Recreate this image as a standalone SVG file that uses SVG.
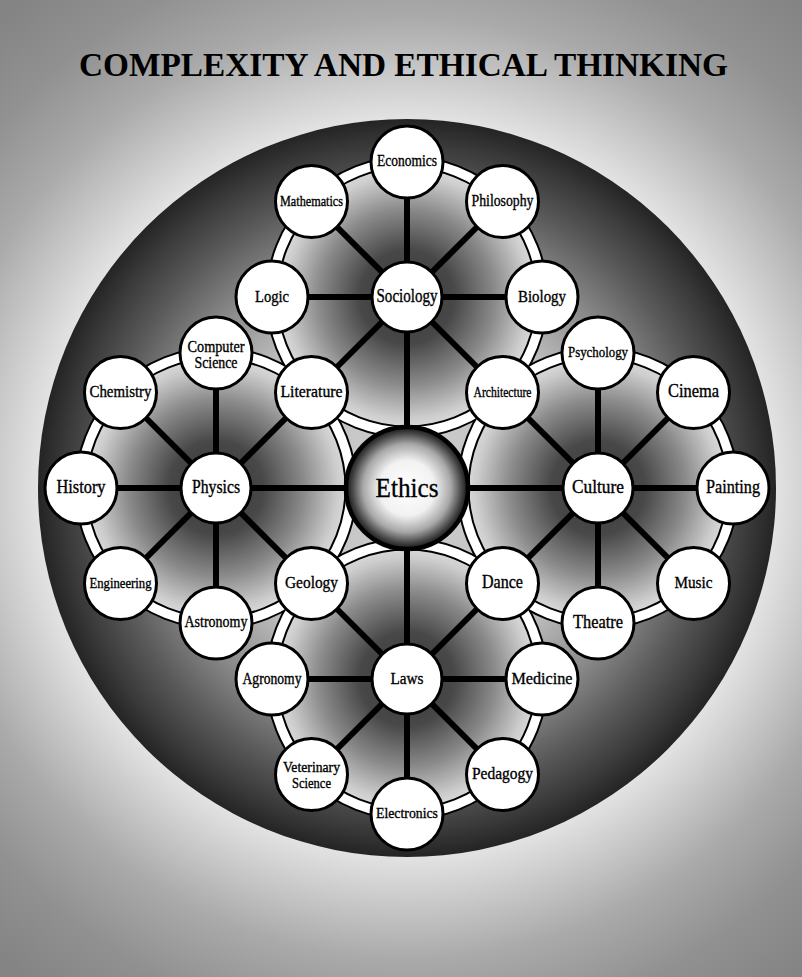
<svg xmlns="http://www.w3.org/2000/svg" width="802" height="977" viewBox="0 0 802 977">
<defs>
<radialGradient id="bgG" gradientUnits="userSpaceOnUse" cx="407" cy="488" r="620">
<stop offset="0" stop-color="#e8e8e8"/>
<stop offset="0.59" stop-color="#e4e4e4"/>
<stop offset="0.66" stop-color="#cccccc"/>
<stop offset="0.76" stop-color="#aaaaaa"/>
<stop offset="0.88" stop-color="#919191"/>
<stop offset="1" stop-color="#848484"/>
</radialGradient>
<radialGradient id="diskG" gradientUnits="userSpaceOnUse" cx="407" cy="488" r="369">
<stop offset="0" stop-color="#d0d0d0"/>
<stop offset="0.5" stop-color="#bbbbbb"/>
<stop offset="0.68" stop-color="#888888"/>
<stop offset="0.82" stop-color="#5a5a5a"/>
<stop offset="0.93" stop-color="#3a3a3a"/>
<stop offset="1" stop-color="#242424"/>
</radialGradient>
<radialGradient id="ringG">
<stop offset="0" stop-color="#383838"/>
<stop offset="0.35" stop-color="#484848"/>
<stop offset="0.65" stop-color="#8a8a8a"/>
<stop offset="0.9" stop-color="#cdcdcd"/>
<stop offset="1" stop-color="#dedede"/>
</radialGradient>
<radialGradient id="ethG">
<stop offset="0" stop-color="#ffffff"/>
<stop offset="0.45" stop-color="#f2f2f2"/>
<stop offset="0.72" stop-color="#a8a8a8"/>
<stop offset="0.9" stop-color="#454545"/>
<stop offset="1" stop-color="#151515"/>
</radialGradient>
</defs>
<style>
.ringo{fill:none;stroke:#000;stroke-width:13}
.ringi{fill:none;stroke:#fff;stroke-width:9}
.spoke{stroke:#000;stroke-width:6;stroke-linecap:butt}
.sat circle{fill:#fff;stroke:#000;stroke-width:3}
.lbl{font-family:"Liberation Serif","Times New Roman",serif;fill:#000;stroke:#000;stroke-width:0.35;text-anchor:middle}
.title{font-family:"Liberation Serif","Times New Roman",serif;fill:#000;font-size:33px;font-weight:bold}
</style>
<rect x="0" y="0" width="802" height="977" fill="url(#bgG)"/>
<text class="title" x="79" y="76" textLength="649" lengthAdjust="spacingAndGlyphs">COMPLEXITY AND ETHICAL THINKING</text>
<circle cx="407" cy="488" r="369" fill="url(#diskG)"/>
<g id="ring-interiors">
<circle cx="407" cy="297" r="135" fill="url(#ringG)"/>
<circle cx="216" cy="488" r="135" fill="url(#ringG)"/>
<circle cx="598" cy="488" r="135" fill="url(#ringG)"/>
<circle cx="407" cy="679" r="135" fill="url(#ringG)"/>
</g>
<g id="connectors">
<g id="rings">
<circle class="ringo" cx="407" cy="297" r="135"/>
<circle class="ringo" cx="216" cy="488" r="135"/>
<circle class="ringo" cx="598" cy="488" r="135"/>
<circle class="ringo" cx="407" cy="679" r="135"/>
<circle class="ringi" cx="407" cy="297" r="135"/>
<circle class="ringi" cx="216" cy="488" r="135"/>
<circle class="ringi" cx="598" cy="488" r="135"/>
<circle class="ringi" cx="407" cy="679" r="135"/>
</g>
<g id="spokes">
<line class="spoke" x1="407" y1="488" x2="407" y2="297"/>
<line class="spoke" x1="407" y1="488" x2="216" y2="488"/>
<line class="spoke" x1="407" y1="488" x2="598" y2="488"/>
<line class="spoke" x1="407" y1="488" x2="407" y2="679"/>
<line class="spoke" x1="407" y1="297" x2="407" y2="162"/>
<line class="spoke" x1="407" y1="297" x2="311.5" y2="201.5"/>
<line class="spoke" x1="407" y1="297" x2="502.5" y2="201.5"/>
<line class="spoke" x1="407" y1="297" x2="272" y2="297"/>
<line class="spoke" x1="407" y1="297" x2="542" y2="297"/>
<line class="spoke" x1="407" y1="297" x2="311.5" y2="392.5"/>
<line class="spoke" x1="407" y1="297" x2="502.5" y2="392.5"/>
<line class="spoke" x1="216" y1="488" x2="216" y2="353"/>
<line class="spoke" x1="216" y1="488" x2="120.5" y2="392.5"/>
<line class="spoke" x1="216" y1="488" x2="81" y2="488"/>
<line class="spoke" x1="216" y1="488" x2="120.5" y2="583.5"/>
<line class="spoke" x1="216" y1="488" x2="216" y2="623"/>
<line class="spoke" x1="216" y1="488" x2="311.5" y2="392.5"/>
<line class="spoke" x1="216" y1="488" x2="311.5" y2="583.5"/>
<line class="spoke" x1="598" y1="488" x2="598" y2="353"/>
<line class="spoke" x1="598" y1="488" x2="693.5" y2="392.5"/>
<line class="spoke" x1="598" y1="488" x2="733" y2="488"/>
<line class="spoke" x1="598" y1="488" x2="693.5" y2="583.5"/>
<line class="spoke" x1="598" y1="488" x2="598" y2="623"/>
<line class="spoke" x1="598" y1="488" x2="502.5" y2="392.5"/>
<line class="spoke" x1="598" y1="488" x2="502.5" y2="583.5"/>
<line class="spoke" x1="407" y1="679" x2="272" y2="679"/>
<line class="spoke" x1="407" y1="679" x2="542" y2="679"/>
<line class="spoke" x1="407" y1="679" x2="311.5" y2="774.5"/>
<line class="spoke" x1="407" y1="679" x2="407" y2="814"/>
<line class="spoke" x1="407" y1="679" x2="502.5" y2="774.5"/>
<line class="spoke" x1="407" y1="679" x2="311.5" y2="583.5"/>
<line class="spoke" x1="407" y1="679" x2="502.5" y2="583.5"/>
</g>
</g>
<g id="n-ethics">
<circle cx="407" cy="488" r="61" fill="url(#ethG)" stroke="#000" stroke-width="4.5"/>
<text class="lbl" x="407" y="497" font-size="27" textLength="63" lengthAdjust="spacingAndGlyphs" stroke-width="0.6">Ethics</text>
</g>
<g id="n-sociology" class="sat"><circle cx="407" cy="297" r="35"/><text class="lbl" x="407" y="302" font-size="18" textLength="61" lengthAdjust="spacingAndGlyphs">Sociology</text></g>
<g id="n-physics" class="sat"><circle cx="216" cy="488" r="35"/><text class="lbl" x="216" y="493" font-size="18" textLength="48" lengthAdjust="spacingAndGlyphs">Physics</text></g>
<g id="n-culture" class="sat"><circle cx="598" cy="488" r="35"/><text class="lbl" x="598" y="493" font-size="19" textLength="52" lengthAdjust="spacingAndGlyphs">Culture</text></g>
<g id="n-laws" class="sat"><circle cx="407" cy="679" r="35"/><text class="lbl" x="407" y="684" font-size="17" textLength="33" lengthAdjust="spacingAndGlyphs">Laws</text></g>
<g id="n-economics" class="sat"><circle cx="407" cy="162" r="36"/><text class="lbl" x="407" y="166" font-size="16" textLength="60" lengthAdjust="spacingAndGlyphs">Economics</text></g>
<g id="n-mathematics" class="sat"><circle cx="311.5" cy="201.5" r="36"/><text class="lbl" x="311.5" y="205.5" font-size="15" textLength="63" lengthAdjust="spacingAndGlyphs">Mathematics</text></g>
<g id="n-philosophy" class="sat"><circle cx="502.5" cy="201.5" r="36"/><text class="lbl" x="502.5" y="205.5" font-size="16" textLength="62" lengthAdjust="spacingAndGlyphs">Philosophy</text></g>
<g id="n-logic" class="sat"><circle cx="272" cy="297" r="36"/><text class="lbl" x="272" y="301.5" font-size="17" textLength="34" lengthAdjust="spacingAndGlyphs">Logic</text></g>
<g id="n-biology" class="sat"><circle cx="542" cy="297" r="36"/><text class="lbl" x="542" y="301.5" font-size="17" textLength="48" lengthAdjust="spacingAndGlyphs">Biology</text></g>
<g id="n-literature" class="sat"><circle cx="311.5" cy="392.5" r="36"/><text class="lbl" x="311.5" y="396.5" font-size="16" textLength="62" lengthAdjust="spacingAndGlyphs">Literature</text></g>
<g id="n-architecture" class="sat"><circle cx="502.5" cy="392.5" r="36"/><text class="lbl" x="502.5" y="396.5" font-size="15" textLength="58" lengthAdjust="spacingAndGlyphs">Architecture</text></g>
<g id="n-computer-science" class="sat"><circle cx="216" cy="353" r="36"/><text class="lbl" x="216" y="352" font-size="16" textLength="57" lengthAdjust="spacingAndGlyphs">Computer</text><text class="lbl" x="216" y="368" font-size="16" textLength="43" lengthAdjust="spacingAndGlyphs">Science</text></g>
<g id="n-chemistry" class="sat"><circle cx="120.5" cy="392.5" r="36"/><text class="lbl" x="120.5" y="397" font-size="16" textLength="62" lengthAdjust="spacingAndGlyphs">Chemistry</text></g>
<g id="n-history" class="sat"><circle cx="81" cy="488" r="36"/><text class="lbl" x="81" y="493" font-size="18" textLength="49" lengthAdjust="spacingAndGlyphs">History</text></g>
<g id="n-engineering" class="sat"><circle cx="120.5" cy="583.5" r="36"/><text class="lbl" x="120.5" y="587.5" font-size="15" textLength="62" lengthAdjust="spacingAndGlyphs">Engineering</text></g>
<g id="n-astronomy" class="sat"><circle cx="216" cy="623" r="36"/><text class="lbl" x="216" y="627" font-size="16" textLength="63" lengthAdjust="spacingAndGlyphs">Astronomy</text></g>
<g id="n-geology" class="sat"><circle cx="311.5" cy="583.5" r="36"/><text class="lbl" x="311.5" y="588" font-size="17" textLength="53" lengthAdjust="spacingAndGlyphs">Geology</text></g>
<g id="n-psychology" class="sat"><circle cx="598" cy="353" r="36"/><text class="lbl" x="598" y="357" font-size="15" textLength="60" lengthAdjust="spacingAndGlyphs">Psychology</text></g>
<g id="n-cinema" class="sat"><circle cx="693.5" cy="392.5" r="36"/><text class="lbl" x="693.5" y="397" font-size="18" textLength="51" lengthAdjust="spacingAndGlyphs">Cinema</text></g>
<g id="n-painting" class="sat"><circle cx="733" cy="488" r="36"/><text class="lbl" x="733" y="493" font-size="18" textLength="54" lengthAdjust="spacingAndGlyphs">Painting</text></g>
<g id="n-music" class="sat"><circle cx="693.5" cy="583.5" r="36"/><text class="lbl" x="693.5" y="588" font-size="17" textLength="38" lengthAdjust="spacingAndGlyphs">Music</text></g>
<g id="n-theatre" class="sat"><circle cx="598" cy="623" r="36"/><text class="lbl" x="598" y="628" font-size="18" textLength="50" lengthAdjust="spacingAndGlyphs">Theatre</text></g>
<g id="n-dance" class="sat"><circle cx="502.5" cy="583.5" r="36"/><text class="lbl" x="502.5" y="588" font-size="18" textLength="41" lengthAdjust="spacingAndGlyphs">Dance</text></g>
<g id="n-agronomy" class="sat"><circle cx="272" cy="679" r="36"/><text class="lbl" x="272" y="683.5" font-size="16" textLength="59" lengthAdjust="spacingAndGlyphs">Agronomy</text></g>
<g id="n-medicine" class="sat"><circle cx="542" cy="679" r="36"/><text class="lbl" x="542" y="684" font-size="17" textLength="61" lengthAdjust="spacingAndGlyphs">Medicine</text></g>
<g id="n-veterinary-science" class="sat"><circle cx="311.5" cy="774.5" r="36"/><text class="lbl" x="311.5" y="772" font-size="15" textLength="57" lengthAdjust="spacingAndGlyphs">Veterinary</text><text class="lbl" x="311.5" y="788" font-size="15" textLength="39" lengthAdjust="spacingAndGlyphs">Science</text></g>
<g id="n-pedagogy" class="sat"><circle cx="502.5" cy="774.5" r="36"/><text class="lbl" x="502.5" y="779" font-size="17" textLength="61" lengthAdjust="spacingAndGlyphs">Pedagogy</text></g>
<g id="n-electronics" class="sat"><circle cx="407" cy="814" r="36"/><text class="lbl" x="407" y="818" font-size="15" textLength="62" lengthAdjust="spacingAndGlyphs">Electronics</text></g>
</svg>
